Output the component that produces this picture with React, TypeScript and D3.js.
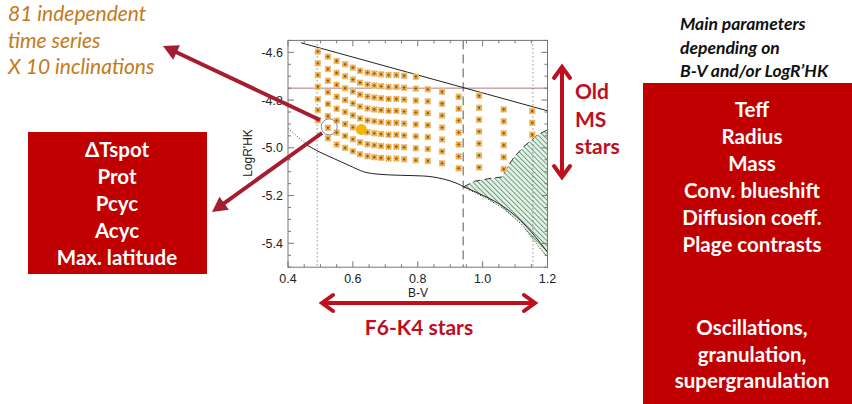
import React from "react";
import * as d3 from "d3";

// ---------- data ----------
const BV_COLS = [0.492, 0.523, 0.55, 0.576, 0.6, 0.622, 0.645, 0.666, 0.687, 0.71, 0.734, 0.758, 0.794, 0.831, 0.875, 0.926, 0.989, 1.065, 1.153];
const LOGR_COLS = [
  [-4.597, -4.646, -4.695, -4.744, -4.796, -4.842, -4.884],
  [-4.618, -4.67, -4.719, -4.767, -4.816, -4.867, -4.916, -4.96],
  [-4.636, -4.686, -4.736, -4.786, -4.836, -4.886, -4.936, -4.986],
  [-4.65, -4.7, -4.75, -4.8, -4.85, -4.9, -4.95, -5.0],
  [-4.664, -4.714, -4.764, -4.814, -4.864, -4.914, -4.964, -5.014],
  [-4.677, -4.727, -4.777, -4.827, -4.877, -4.927, -4.977, -5.027],
  [-4.685, -4.735, -4.785, -4.835, -4.885, -4.935, -4.985, -5.035],
  [-4.689, -4.739, -4.789, -4.839, -4.889, -4.939, -4.989, -5.039],
  [-4.692, -4.742, -4.792, -4.842, -4.892, -4.942, -4.992, -5.042],
  [-4.695, -4.745, -4.795, -4.845, -4.895, -4.945, -4.995, -5.045],
  [-4.695, -4.745, -4.795, -4.845, -4.895, -4.945, -4.995, -5.045],
  [-4.698, -4.748, -4.798, -4.848, -4.898, -4.948, -4.998, -5.048],
  [-4.702, -4.752, -4.802, -4.852, -4.902, -4.952, -5.002, -5.052],
  [-4.755, -4.805, -4.855, -4.905, -4.955, -5.005, -5.055],
  [-4.765, -4.815, -4.865, -4.915, -4.965, -5.015, -5.065],
  [-4.786, -4.836, -4.886, -4.936, -4.986, -5.036, -5.086],
  [-4.782, -4.832, -4.882, -4.932, -4.982, -5.032, -5.082],
  [-4.839, -4.889, -4.939, -4.989, -5.039, -5.089],
  [-4.846, -4.895, -4.945],
];

const UPPER_LINE: [number, number][] = [[0.44, -4.56], [1.2, -4.845]];
const LOWER_CURVE: [number, number][] = [
  [0.458, -4.988], [0.489, -5.012], [0.54, -5.044], [0.592, -5.076], [0.633, -5.1],
  [0.674, -5.11], [0.746, -5.115], [0.818, -5.118], [0.88, -5.131], [0.921, -5.149],
  [0.942, -5.163], [1.003, -5.2], [1.065, -5.247], [1.117, -5.305], [1.158, -5.365], [1.2, -5.437],
];
const LEFT_DOTTED: [number, number][] = [[0.4, -4.918], [0.458, -4.988]];
const LOWER_DOTTED: [number, number][] = [
  [0.942, -5.165], [1.01, -5.21], [1.065, -5.255], [1.12, -5.32], [1.165, -5.4], [1.2, -5.46],
];
const HATCH_TOP: [number, number][] = [
  [0.942, -5.163], [0.975, -5.14], [1.024, -5.128], [1.06, -5.122], [1.075, -5.085],
  [1.096, -5.04], [1.127, -4.995], [1.17, -4.945], [1.2, -4.925],
];
const HLINE_LOGR = -4.75;
const DASHED_BV = 0.94;
const DOTTED_BV = [0.49, 1.155];
const SUN: [number, number] = [0.626, -4.923];
const CIRCLED: [number, number] = [0.527, -4.912];

const X_TICK_LABELS = ["0.4", "0.6", "0.8", "1.0", "1.2"];
const Y_TICK_LABELS = ["-4.6", "-4.8", "-5.0", "-5.2", "-5.4"];

const LEFT_BOX_LINES = ["ΔTspot", "Prot", "Pcyc", "Acyc", "Max. latitude"];
const RIGHT_BOX_LINES_1 = ["Teff", "Radius", "Mass", "Conv. blueshift", "Diffusion coeff.", "Plage contrasts"];
const RIGHT_BOX_LINES_2 = ["Oscillations,", "granulation,", "supergranulation"];
const TOP_LEFT_LINES = ["81 independent", "time series", "X 10 inclinations"];
const TOP_RIGHT_LINES = ["Main parameters", "depending on", "B-V and/or LogR’HK"];
const OLD_MS_LINES = ["Old", "MS", "stars"];

// ---------- layout ----------
const W = 852, H = 404;
const PL = 288, PR = 547.5, PT = 40.4, PB = 267.2;
const BOX_RED = "#c00000";
const ARROW_RED = "#a61d30";
const TEXT_RED = "#bd0f1d";
const FONT = "Lato, 'Open Sans', sans-serif";
const AXFONT = "'Liberation Sans', Arial, sans-serif";

function filledArrow(x1: number, y1: number, x2: number, y2: number, len: number, hw: number) {
  const dx = x2 - x1, dy = y2 - y1;
  const L = Math.hypot(dx, dy);
  const ux = dx / L, uy = dy / L;
  const bx = x2 - ux * len, by = y2 - uy * len;
  const px = -uy, py = ux;
  return {
    line: [x1, y1, bx + ux * 2, by + uy * 2],
    head: `${x2},${y2} ${bx + px * hw},${by + py * hw} ${bx - px * hw},${by - py * hw}`,
  };
}

function chevron(x: number, y: number, ux: number, uy: number, len: number, hw: number) {
  const px = -uy, py = ux;
  const bx = x - ux * len, by = y - uy * len;
  return `${bx + px * hw},${by + py * hw} ${x},${y} ${bx - px * hw},${by - py * hw}`;
}

export default function App() {
  const x = d3.scaleLinear().domain([0.4, 1.2]).range([PL, PR]);
  const y = d3.scaleLinear().domain([-4.55, -5.5]).range([PT, PB]);
  const line = d3.line<[number, number]>().x((d) => x(d[0])).y((d) => y(d[1]));
  const smooth = d3.line<[number, number]>().x((d) => x(d[0])).y((d) => y(d[1])).curve(d3.curveMonotoneX);

  const xMinor = d3.range(0.4, 1.2001, 0.05);
  const yMinor = d3.range(-4.55, -5.5001, -0.05);
  const xMajor = X_TICK_LABELS.map(Number);
  const yMajor = Y_TICK_LABELS.map(Number);

  const hatchPoly: [number, number][] = [
    ...HATCH_TOP,
    [1.2, -5.46],
    ...LOWER_DOTTED.slice().reverse(),
  ];

  const points: { bv: number; lr: number }[] = [];
  BV_COLS.forEach((bv, i) => LOGR_COLS[i].forEach((lr) => points.push({ bv, lr })));

  const a1 = filledArrow(320, 120, 163, 46, 15, 8);
  const a2 = filledArrow(322, 133, 212, 212, 15, 8);

  const vx = 562, vy1 = 67, vy2 = 177;
  const hy = 303, hx1 = 322, hx2 = 535;

  return (
    <svg width={W} height={H} style={{ position: "absolute", left: 0, top: 0, background: "#fff" }}>
      <defs>
        <pattern id="hatch" width="3.6" height="3.6" patternUnits="userSpaceOnUse" patternTransform="rotate(-45)">
          <rect width="3.6" height="3.6" fill="#e6f1e6" />
          <line x1="0.5" y1="0" x2="0.5" y2="3.6" stroke="#4f8c68" strokeWidth="0.8" />
        </pattern>
        <clipPath id="plotclip">
          <rect x={PL} y={PT} width={PR - PL} height={PB - PT} />
        </clipPath>
      </defs>

      {/* top-left annotation */}
      {TOP_LEFT_LINES.map((t, i) => (
        <text key={t} x={8} y={21 + i * 26.5} fontFamily={FONT} fontStyle="italic" fontSize={21} fill="#c47a1a">
          {t}
        </text>
      ))}

      {/* top-right annotation */}
      {TOP_RIGHT_LINES.map((t, i) => (
        <text key={t} x={680} y={30 + i * 23.5} fontFamily={FONT} fontStyle="italic" fontWeight="bold" fontSize={17.5} fill="#111">
          {t}
        </text>
      ))}

      {/* left red box */}
      <rect x={28} y={132} width={179} height={142} fill={BOX_RED} />
      {LEFT_BOX_LINES.map((t, i) => (
        <text key={t} x={117} y={157 + i * 27} textAnchor="middle" fontFamily={FONT} fontWeight="bold" fontSize={20.5} fill="#fff">
          {t}
        </text>
      ))}

      {/* right red box */}
      <rect x={643} y={83} width={W - 643} height={H - 83} fill={BOX_RED} />
      {RIGHT_BOX_LINES_1.map((t, i) => (
        <text key={t} x={752} y={117 + i * 27} textAnchor="middle" fontFamily={FONT} fontWeight="bold" fontSize={20.5} fill="#fff">
          {t}
        </text>
      ))}
      {RIGHT_BOX_LINES_2.map((t, i) => (
        <text key={t} x={752} y={335 + i * 26.5} textAnchor="middle" fontFamily={FONT} fontWeight="bold" fontSize={20.5} fill="#fff">
          {t}
        </text>
      ))}

      {/* plot */}
      <g clipPath="url(#plotclip)">
        <path d={line(hatchPoly) + "Z"} fill="url(#hatch)" stroke="none" />
        <path d={line(HATCH_TOP) ?? ""} fill="none" stroke="#333" strokeWidth={1} strokeDasharray="7,4" />
        <path d={line(LOWER_DOTTED) ?? ""} fill="none" stroke="#333" strokeWidth={1} strokeDasharray="1,2" />
        <line x1={PL} x2={PR} y1={y(HLINE_LOGR)} y2={y(HLINE_LOGR)} stroke="#b07a76" strokeWidth={1} />
        <line x1={x(DASHED_BV)} x2={x(DASHED_BV)} y1={PT} y2={PB} stroke="#555" strokeWidth={1} strokeDasharray="9,5" />
        {DOTTED_BV.map((v) => (
          <line key={v} x1={x(v)} x2={x(v)} y1={PT} y2={PB} stroke="#555" strokeWidth={1} strokeDasharray="1,3" />
        ))}
        <path d={line(UPPER_LINE) ?? ""} fill="none" stroke="#222" strokeWidth={1} />
        <path d={smooth(LOWER_CURVE) ?? ""} fill="none" stroke="#222" strokeWidth={1} />
        <path d={line(LEFT_DOTTED) ?? ""} fill="none" stroke="#333" strokeWidth={1} strokeDasharray="1,2" />

        {points.map((p, i) => {
          const cx = x(p.bv), cy = y(p.lr);
          return (
            <g key={i} transform={`translate(${cx},${cy})`}>
              <rect x={-3.2} y={-3.2} width={6.4} height={6.4} fill="#f4dcae" />
              <path d="M-2.6,-2.6L2.6,2.6M-2.6,2.6L2.6,-2.6M0,-3L0,3M-3,0L3,0" stroke="#e39a2c" strokeWidth={1.1} />
              <circle r={1.1} fill="#8a5524" />
            </g>
          );
        })}

        <circle cx={x(SUN[0])} cy={y(SUN[1])} r={5.5} fill="#f7b500" />
        <circle cx={x(CIRCLED[0])} cy={y(CIRCLED[1])} r={8} fill="none" stroke="#7d8fa8" strokeWidth={1} />
      </g>

      {/* frame & ticks */}
      <rect x={PL} y={PT} width={PR - PL} height={PB - PT} fill="none" stroke="#777" strokeWidth={1} />
      {xMinor.map((v, i) => {
        const maj = xMajor.some((m) => Math.abs(m - v) < 1e-6);
        const l = maj ? 6 : 3;
        return (
          <g key={"xt" + i} stroke="#777" strokeWidth={1}>
            <line x1={x(v)} x2={x(v)} y1={PB} y2={PB - l} />
            <line x1={x(v)} x2={x(v)} y1={PT} y2={PT + l} />
          </g>
        );
      })}
      {yMinor.map((v, i) => {
        const maj = yMajor.some((m) => Math.abs(m - v) < 1e-6);
        const l = maj ? 6 : 3;
        return (
          <g key={"yt" + i} stroke="#777" strokeWidth={1}>
            <line x1={PL} x2={PL + l} y1={y(v)} y2={y(v)} />
            <line x1={PR} x2={PR - l} y1={y(v)} y2={y(v)} />
          </g>
        );
      })}
      {X_TICK_LABELS.map((t) => (
        <text key={t} x={x(Number(t))} y={283} textAnchor="middle" fontFamily={AXFONT} fontSize={12.5} fill="#222">
          {t}
        </text>
      ))}
      {Y_TICK_LABELS.map((t) => (
        <text key={t} x={283} y={y(Number(t)) + 4.5} textAnchor="end" fontFamily={AXFONT} fontSize={12.5} fill="#222">
          {t}
        </text>
      ))}
      <text x={418} y={297} textAnchor="middle" fontFamily={AXFONT} fontSize={12} fill="#222">B-V</text>
      <text transform={`translate(${252},${153}) rotate(-90)`} textAnchor="middle" fontFamily={AXFONT} fontSize={12} fill="#222">
        LogR'HK
      </text>

      {/* arrows from circled star */}
      <line x1={a1.line[0]} y1={a1.line[1]} x2={a1.line[2]} y2={a1.line[3]} stroke={ARROW_RED} strokeWidth={4} />
      <polygon points={a1.head} fill={ARROW_RED} />
      <line x1={a2.line[0]} y1={a2.line[1]} x2={a2.line[2]} y2={a2.line[3]} stroke={ARROW_RED} strokeWidth={4} />
      <polygon points={a2.head} fill={ARROW_RED} />

      {/* Old MS stars arrow */}
      <line x1={vx} x2={vx} y1={vy1 + 1} y2={vy2 - 1} stroke={TEXT_RED} strokeWidth={4} />
      <polyline points={chevron(vx, vy1, 0, -1, 11, 8)} fill="none" stroke={TEXT_RED} strokeWidth={4} strokeLinecap="round" />
      <polyline points={chevron(vx, vy2, 0, 1, 11, 8)} fill="none" stroke={TEXT_RED} strokeWidth={4} strokeLinecap="round" />
      {OLD_MS_LINES.map((t, i) => (
        <text key={t} x={575} y={99 + i * 27.5} fontFamily={FONT} fontWeight="bold" fontSize={21} fill={TEXT_RED}>
          {t}
        </text>
      ))}

      {/* F6-K4 arrow */}
      <line x1={hx1 + 1} x2={hx2 - 1} y1={hy} y2={hy} stroke={TEXT_RED} strokeWidth={4} />
      <polyline points={chevron(hx1, hy, -1, 0, 11, 8)} fill="none" stroke={TEXT_RED} strokeWidth={4} strokeLinecap="round" />
      <polyline points={chevron(hx2, hy, 1, 0, 11, 8)} fill="none" stroke={TEXT_RED} strokeWidth={4} strokeLinecap="round" />
      <text x={419} y={335} textAnchor="middle" fontFamily={FONT} fontWeight="bold" fontSize={21} fill={TEXT_RED}>
        F6-K4 stars
      </text>
    </svg>
  );
}
